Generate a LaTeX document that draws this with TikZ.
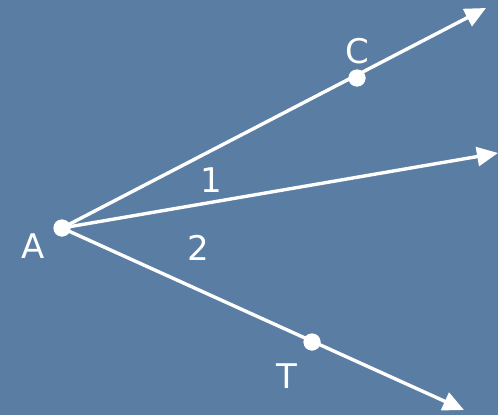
\documentclass[tikz,border=0pt]{standalone}
\usepackage{fontspec}
\setmainfont{DejaVu Sans}
\usetikzlibrary{arrows.meta}
\definecolor{slate}{RGB}{90,125,164}
\begin{document}
\begin{tikzpicture}[x=1pt, y=-1pt, every node/.style={font=\fontsize{34}{36}\selectfont, text=white},
  dot/.style={circle, fill=white, inner sep=0pt, minimum size=17pt},
  ray/.style={white, line width=3.4pt, -{Triangle[length=21pt,width=19pt]}}]
  % background
  \fill[slate] (0,0) rectangle (498,415);
  \useasboundingbox (0,0) rectangle (498,415);
  % points
  \node[dot] (A) at (62,228) {};
  \node[dot] (C) at (357,78) {};
  \node[dot] (T) at (312,342) {};
  \coordinate (e1) at (486,8);
  \coordinate (e2) at (498,153);
  \coordinate (e3) at (464,410);
  % rays
  \draw[ray] (A.center) -- (e1);
  \draw[ray] (A.center) -- (e2);
  \draw[ray] (A.center) -- (e3);
  \node[dot] at (A) {};
  \node[dot] at (C) {};
  \node[dot] at (T) {};
  % labels
  \node (lA) at (33,246) {A};
  \node (lC) at (357,51) {C};
  \node (lT) at (287,376) {T};
  \node (l1) at (211,180) {1};
  \node (l2) at (198,248) {2};
\end{tikzpicture}
\end{document}
